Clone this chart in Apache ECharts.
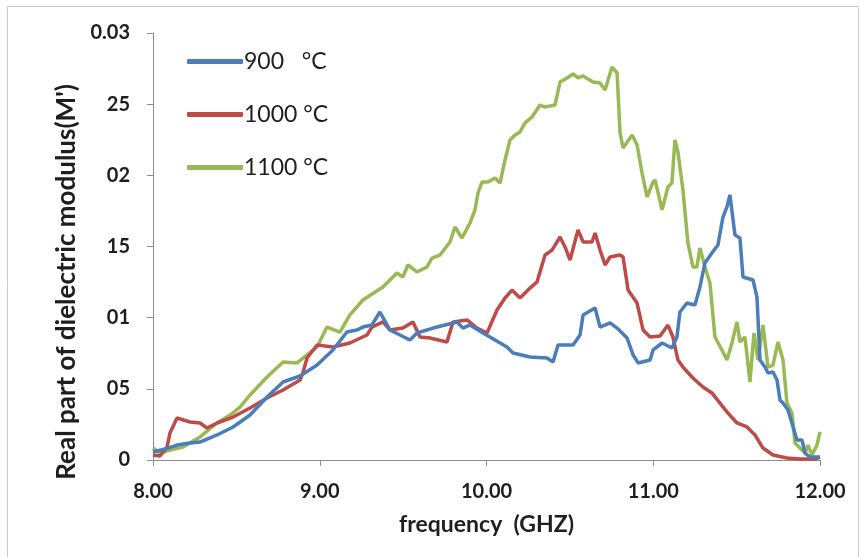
<!DOCTYPE html>
<html>
<head>
<meta charset="utf-8">
<script src="https://cdn.jsdelivr.net/npm/echarts@6/dist/echarts.min.js"></script>
<style>
html,body{margin:0;padding:0;background:#fff;}
#chart{width:864px;height:557px;}
</style>
</head>
<body>
<div id="chart"></div>
<script>
// ---- data ----
var seriesNames = ['900   °C', '1000 °C', '1100 °C'];
var xTickLabels = ['8.00', '9.00', '10.00', '11.00', '12.00'];
var yTickLabels = ['0', '05', '01', '15', '02', '25', '0.03'];
var xAxisTitle = 'frequency  (GHZ)';
var yAxisTitle = "Real part of dielectric modulus(M')";

var freq900 = [8.000,8.072,8.144,8.222,8.282,8.384,8.480,8.582,8.684,8.780,8.882,8.984,9.079,9.163,9.223,9.259,9.313,9.361,9.421,9.481,9.541,9.583,9.679,9.823,9.859,9.901,9.979,10.051,10.123,10.159,10.261,10.363,10.399,10.429,10.519,10.561,10.579,10.651,10.681,10.741,10.783,10.843,10.879,10.909,10.981,10.999,11.053,11.112,11.142,11.160,11.202,11.250,11.280,11.310,11.352,11.388,11.418,11.442,11.460,11.490,11.520,11.538,11.598,11.622,11.640,11.670,11.688,11.718,11.742,11.760,11.778,11.808,11.862,11.892,11.910,11.940,12.000];
var m900 = [0.00056,0.00077,0.00105,0.00119,0.00126,0.00176,0.00232,0.00316,0.00443,0.00548,0.00590,0.00667,0.00773,0.00899,0.00913,0.00934,0.00949,0.01040,0.00913,0.00878,0.00843,0.00892,0.00927,0.00970,0.00927,0.00949,0.00892,0.00843,0.00794,0.00752,0.00724,0.00717,0.00689,0.00808,0.00808,0.00878,0.01019,0.01068,0.00934,0.00963,0.00927,0.00857,0.00738,0.00682,0.00703,0.00773,0.00822,0.00787,0.00864,0.01040,0.01103,0.01089,0.01216,0.01384,0.01454,0.01511,0.01707,0.01778,0.01862,0.01581,0.01560,0.01286,0.01265,0.01145,0.00703,0.00653,0.00611,0.00618,0.00562,0.00422,0.00400,0.00351,0.00141,0.00141,0.00049,0.00021,0.00021];

var freq1000 = [8.000,8.042,8.084,8.102,8.144,8.222,8.282,8.324,8.384,8.480,8.582,8.684,8.780,8.882,8.900,8.924,8.984,9.079,9.181,9.283,9.313,9.379,9.421,9.499,9.559,9.601,9.661,9.763,9.799,9.883,9.943,10.003,10.063,10.111,10.153,10.201,10.261,10.303,10.351,10.393,10.441,10.471,10.501,10.549,10.579,10.633,10.651,10.681,10.711,10.741,10.801,10.819,10.849,10.903,10.939,10.981,11.041,11.088,11.118,11.148,11.178,11.238,11.298,11.352,11.400,11.448,11.502,11.562,11.610,11.658,11.718,11.802,11.880,11.970,12.000];
var m1000 = [0.00035,0.00028,0.00091,0.00190,0.00295,0.00267,0.00260,0.00225,0.00260,0.00302,0.00365,0.00436,0.00492,0.00562,0.00618,0.00717,0.00808,0.00794,0.00822,0.00878,0.00934,0.00970,0.00913,0.00927,0.00970,0.00864,0.00857,0.00829,0.00970,0.00984,0.00927,0.00892,0.01054,0.01138,0.01194,0.01138,0.01208,0.01251,0.01440,0.01475,0.01567,0.01497,0.01405,0.01616,0.01532,0.01532,0.01595,0.01475,0.01370,0.01426,0.01440,0.01426,0.01194,0.01103,0.00913,0.00864,0.00871,0.00948,0.00864,0.00703,0.00653,0.00576,0.00513,0.00471,0.00400,0.00330,0.00260,0.00232,0.00176,0.00084,0.00035,0.00014,0.00007,0.00007,0.00021];

var freq1100 = [8.000,8.042,8.102,8.180,8.282,8.384,8.462,8.522,8.582,8.684,8.780,8.864,8.924,8.984,9.043,9.121,9.181,9.259,9.379,9.463,9.499,9.529,9.583,9.643,9.673,9.721,9.781,9.811,9.853,9.901,9.931,9.949,9.973,10.009,10.051,10.081,10.111,10.141,10.171,10.201,10.231,10.273,10.321,10.351,10.411,10.441,10.483,10.519,10.549,10.579,10.639,10.681,10.711,10.729,10.753,10.783,10.801,10.819,10.873,10.903,10.933,10.963,10.999,11.011,11.053,11.088,11.112,11.130,11.148,11.178,11.208,11.238,11.262,11.280,11.310,11.340,11.370,11.412,11.442,11.472,11.502,11.520,11.550,11.580,11.604,11.628,11.658,11.688,11.718,11.748,11.778,11.802,11.832,11.850,11.880,11.910,11.928,11.952,11.982,12.000];
var m1100 = [0.00084,0.00049,0.00070,0.00091,0.00162,0.00260,0.00316,0.00372,0.00457,0.00583,0.00689,0.00682,0.00738,0.00794,0.00934,0.00899,0.01019,0.01124,0.01216,0.01314,0.01286,0.01370,0.01321,0.01356,0.01419,0.01440,0.01532,0.01637,0.01560,0.01665,0.01757,0.01876,0.01953,0.01953,0.01981,0.01946,0.02108,0.02248,0.02283,0.02305,0.02368,0.02410,0.02494,0.02480,0.02494,0.02656,0.02684,0.02712,0.02684,0.02698,0.02656,0.02649,0.02600,0.02670,0.02761,0.02719,0.02298,0.02192,0.02283,0.02213,0.02016,0.01848,0.01953,0.01967,0.01757,0.01918,0.01946,0.02248,0.02164,0.01897,0.01525,0.01356,0.01356,0.01490,0.01356,0.01244,0.00864,0.00773,0.00703,0.00822,0.00970,0.00829,0.00864,0.00548,0.00892,0.00703,0.00948,0.00653,0.00667,0.00829,0.00703,0.00400,0.00330,0.00119,0.00084,0.00049,0.00105,0.00035,0.00105,0.00197];

function pairs(xs, ys) {
  var out = [];
  for (var i = 0; i < xs.length; i++) out.push([xs[i], ys[i]]);
  return out;
}

var colors = ['#4a7ebb', '#be4b48', '#98b954'];
var FONT = 'Lato, "Open Sans", sans-serif';
var TXT = '#1e1e1e';

var chart = echarts.init(document.getElementById('chart'), null, {renderer: 'canvas'});
chart.setOption({
  animation: false,
  backgroundColor: '#fff',
  color: colors,
  graphic: [{
    type: 'rect',
    shape: {x: 7.5, y: 6.5, width: 851, height: 560},
    style: {fill: 'none', stroke: '#c9c9c9', lineWidth: 1},
    silent: true,
    z: -1
  }, {
    type: 'text',
    x: 67,
    y: 282,
    rotation: Math.PI / 2,
    silent: true,
    style: {
      text: yAxisTitle,
      fontFamily: FONT, fontSize: 26, fontWeight: 'bold', fill: TXT,
      align: 'center', verticalAlign: 'middle'
    }
  }],
  grid: {left: 153, right: 44, top: 33, bottom: 97, containLabel: false},
  legend: {
    orient: 'vertical',
    left: 182,
    top: 45,
    itemWidth: 56,
    itemHeight: 5,
    itemGap: 30,
    icon: 'roundRect',
    data: seriesNames,
    textStyle: {fontFamily: FONT, fontSize: 23, color: TXT, lineHeight: 23, padding: [0, 0, 0, -4]}
  },
  xAxis: {
    type: 'value',
    min: 8,
    max: 12,
    interval: 1,
    name: xAxisTitle,
    nameLocation: 'middle',
    nameGap: 53,
    nameTextStyle: {fontFamily: FONT, fontSize: 23, fontWeight: 'bold', color: TXT},
    axisLine: {lineStyle: {color: '#8c8c8c', width: 1}},
    axisTick: {show: true, length: 6, lineStyle: {color: '#8c8c8c'}},
    axisLabel: {
      fontFamily: FONT, fontSize: 20, fontWeight: 'bold', color: TXT, margin: 22,
      formatter: function (v) { return xTickLabels[Math.round(v - 8)]; }
    },
    splitLine: {show: false}
  },
  yAxis: {
    type: 'value',
    min: 0,
    max: 0.03,
    interval: 0.005,
    axisLine: {show: true, lineStyle: {color: '#8c8c8c', width: 1}},
    axisTick: {show: true, length: 6, lineStyle: {color: '#8c8c8c'}},
    axisLabel: {
      fontFamily: FONT, fontSize: 20, fontWeight: 'bold', color: TXT, margin: 23,
      formatter: function (v) { return yTickLabels[Math.round(v / 0.005)]; }
    },
    splitLine: {show: false}
  },
  series: [
    {name: seriesNames[0], type: 'line', symbol: 'none', data: pairs(freq900, m900), lineStyle: {width: 3.5, color: colors[0]}, z: 3},
    {name: seriesNames[1], type: 'line', symbol: 'none', data: pairs(freq1000, m1000), lineStyle: {width: 3.5, color: colors[1]}, z: 2},
    {name: seriesNames[2], type: 'line', symbol: 'none', data: pairs(freq1100, m1100), lineStyle: {width: 3.5, color: colors[2]}, z: 1}
  ]
});
</script>
</body>
</html>
